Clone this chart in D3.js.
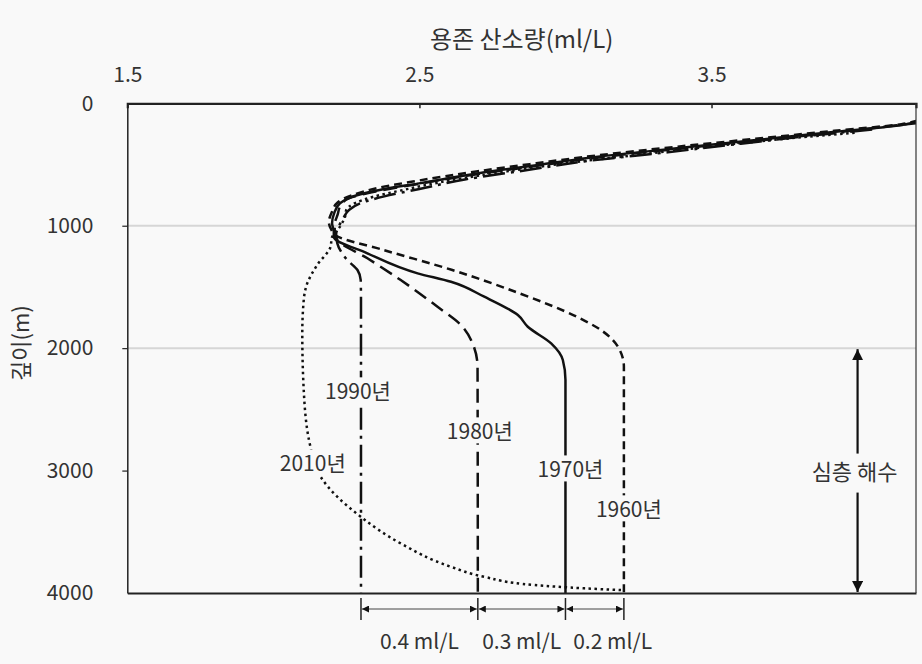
<!DOCTYPE html>
<html>
<head>
<meta charset="utf-8">
<script src="https://cdn.jsdelivr.net/npm/d3@7"></script>
<style>
  html, body { margin: 0; padding: 0; background: #f9f9f9; }
  svg { display: block; }
  text { font-family: "Noto Sans CJK KR", "Noto Sans", sans-serif; fill: #333; }
</style>
</head>
<body>
<svg id="chart" width="922" height="664"></svg>
<script>
// ---------------- DATA ----------------
const xTickValues = [1.5, 2.5, 3.5];
const yTickValues = [0, 1000, 2000, 3000, 4000];
const gridDepths = [1000, 2000];
const years = ["1960년", "1970년", "1980년", "1990년", "2010년"];

// depth (m) and dissolved oxygen (ml/L) per survey year
const depth1960  = [140, 170, 225, 290, 355, 425, 490, 555, 630, 690, 750, 810, 890, 970, 1040, 1075, 1200, 1360, 1550, 1745, 1850, 1990, 2150, 2500, 4000];
const oxygen1960 = [4.207, 4.15, 3.92, 3.65, 3.38, 3.11, 2.90, 2.70, 2.50, 2.36, 2.27, 2.22, 2.20, 2.19, 2.20, 2.21, 2.38, 2.61, 2.84, 3.04, 3.12, 3.18, 3.20, 3.20, 3.20];

const depth1970  = [145, 177, 232, 300, 368, 436, 504, 572, 654, 708, 763, 817, 899, 980, 1050, 1090, 1225, 1389, 1458, 1580, 1730, 1825, 1961, 2097, 2260, 4000];
const oxygen1970 = [4.207, 4.152, 3.925, 3.653, 3.382, 3.111, 2.906, 2.703, 2.499, 2.364, 2.269, 2.228, 2.208, 2.201, 2.207, 2.207, 2.322, 2.494, 2.608, 2.722, 2.837, 2.871, 2.951, 2.991, 3.00, 3.00];

const depth1980  = [160, 190, 245, 312, 378, 446, 515, 585, 665, 720, 775, 835, 910, 990, 1060, 1117, 1266, 1444, 1662, 1811, 1961, 2152, 4000];
const oxygen1980 = [4.207, 4.10, 3.90, 3.63, 3.36, 3.10, 2.89, 2.68, 2.48, 2.35, 2.26, 2.23, 2.22, 2.21, 2.21, 2.219, 2.322, 2.436, 2.562, 2.642, 2.682, 2.699, 2.70];

const depth1990  = [215, 262, 330, 400, 470, 545, 620, 700, 760, 815, 870, 935, 1000, 1070, 1144, 1280, 1362, 1444, 1607, 4000];
const oxygen1990 = [4.05, 3.85, 3.60, 3.35, 3.08, 2.87, 2.66, 2.50, 2.38, 2.30, 2.26, 2.24, 2.225, 2.215, 2.219, 2.253, 2.288, 2.299, 2.30, 2.30];

const depth2010  = [240, 290, 352, 420, 490, 556, 632, 705, 765, 815, 870, 930, 1000, 1100, 1171, 1321, 1471, 1607, 1879, 2343, 2806, 3051, 3377, 3595, 3786, 3868, 3935, 3962, 3976];
const oxygen2010 = [3.99, 3.75, 3.50, 3.25, 3.00, 2.80, 2.60, 2.45, 2.34, 2.28, 2.25, 2.245, 2.23, 2.20, 2.196, 2.150, 2.116, 2.104, 2.099, 2.104, 2.127, 2.162, 2.299, 2.436, 2.608, 2.722, 2.894, 3.065, 3.19];

// deep-water values compared at the bottom
const deepValues = [2.3, 2.7, 3.0, 3.2];
const diffLabels = ["0.4 ml/L", "0.3 ml/L", "0.2 ml/L"];
const deepWaterDepths = [2000, 4000];

// ---------------- LAYOUT / STYLE ----------------
const series = [
  { name: years[0], depth: depth1960, oxy: oxygen1960, dash: "8,5",        labelX: 3.2,   labelDepth: 3322, dx: 5 },
  { name: years[1], depth: depth1970, oxy: oxygen1970, dash: null,         labelX: 3.0,   labelDepth: 2996, dx: 5 },
  { name: years[2], depth: depth1980, oxy: oxygen1980, dash: "14,7",       labelX: 2.7,   labelDepth: 2685, dx: 2 },
  { name: years[3], depth: depth1990, oxy: oxygen1990, dash: "22,6,3,6",   labelX: 2.3,   labelDepth: 2358, dx: -3 },
  { name: years[4], depth: depth2010, oxy: oxygen2010, dash: "2.5,3.5",    labelX: 2.135, labelDepth: 2947, dx: 0 }
];

const svg = d3.select("#chart");
const mLeft = 127.3, mRight = 916, mTop = 103.3, mBottom = 593;

const x = d3.scaleLinear().domain([1.5, 4.2]).range([mLeft, mRight]);
const y = d3.scaleLinear().domain([0, 4000]).range([mTop, mBottom]);

// gridlines
svg.append("g").selectAll("line").data(gridDepths).join("line")
  .attr("x1", mLeft).attr("x2", mRight)
  .attr("y1", d => y(d)).attr("y2", d => y(d))
  .attr("stroke", "#d6d6d6").attr("stroke-width", 2);

// clip for curves
svg.append("clipPath").attr("id", "plotclip").append("rect")
  .attr("x", mLeft).attr("y", mTop).attr("width", mRight - mLeft).attr("height", mBottom - mTop);

const line = d3.line().x(d => x(d[1])).y(d => y(d[0])).curve(d3.curveMonotoneY);

const gLines = svg.append("g").attr("clip-path", "url(#plotclip)");
series.forEach(s => {
  const pts = s.depth.map((d, i) => [d, s.oxy[i]]);
  gLines.append("path").datum(pts)
    .attr("d", line)
    .attr("fill", "none")
    .attr("stroke", "#111")
    .attr("stroke-width", 2.5)
    .attr("stroke-dasharray", s.dash);
});

// axes
const topAxis = d3.axisTop(x).tickValues(xTickValues).tickFormat(d3.format(".1f"))
  .tickSize(-5).tickPadding(21);
const gTop = svg.append("g").attr("transform", `translate(0,${mTop})`).call(topAxis);
gTop.select(".domain").attr("stroke", "#222").attr("stroke-width", 2.2);
gTop.selectAll(".tick line").attr("stroke", "#222").attr("stroke-width", 1.5)
  .filter(d => d === 1.5).remove();
gTop.selectAll("text").style("font-size", "21px").attr("fill", "#333");

const leftAxis = d3.axisLeft(y).tickValues(yTickValues).tickFormat(d3.format("d"))
  .tickSize(0).tickPadding(34);
const gLeft = svg.append("g").attr("transform", `translate(${mLeft},0)`).call(leftAxis);
gLeft.select(".domain").attr("stroke", "#222").attr("stroke-width", 1.5);
gLeft.selectAll("text").style("font-size", "21px").attr("fill", "#333");
gLeft.selectAll(".tick").filter(d => d > 0 && d < 4000).append("line")
  .attr("x1", 0).attr("x2", -5).attr("stroke", "#222").attr("stroke-width", 1.2);

const bottomAxis = d3.axisBottom(x).tickValues([]).tickSize(0);
const gBottom = svg.append("g").attr("transform", `translate(0,${mBottom})`).call(bottomAxis);
gBottom.select(".domain").attr("stroke", "#222").attr("stroke-width", 1.8);

svg.append("line").attr("x1", mRight).attr("x2", mRight).attr("y1", mTop).attr("y2", mBottom)
  .attr("stroke", "#333").attr("stroke-width", 1.2);

// axis titles
svg.append("text").attr("x", x(2.85)).attr("y", 48)
  .attr("text-anchor", "middle").style("font-size", "24px").text("용존 산소량(ml/L)");
svg.append("text").attr("transform", `translate(29,${y(2000) - 5}) rotate(-90)`)
  .attr("text-anchor", "middle").style("font-size", "22px").text("깊이(m)");

// series labels with background boxes
function boxedLabel(g, px, py, txt, size) {
  const t = g.append("text").attr("x", px).attr("y", py).attr("dy", "0.35em")
    .attr("text-anchor", "middle").style("font-size", size + "px").text(txt);
  const bb = t.node().getBBox();
  g.insert("rect", "text").attr("x", bb.x - 2).attr("y", bb.y + 2)
    .attr("width", bb.width + 4).attr("height", bb.height - 4).attr("fill", "#f9f9f9");
  return t;
}
series.forEach(s => {
  const g = svg.append("g");
  boxedLabel(g, x(s.labelX) + s.dx, y(s.labelDepth), s.name, 21);
});

// deep water arrow
const defs = svg.append("defs");
defs.append("marker").attr("id", "tri").attr("viewBox", "0 0 10 10")
  .attr("refX", 10).attr("refY", 5).attr("markerWidth", 11).attr("markerHeight", 11)
  .attr("markerUnits", "userSpaceOnUse").attr("orient", "auto-start-reverse")
  .append("path").attr("d", "M0,0 L10,5 L0,10 Z").attr("fill", "#111");
defs.append("marker").attr("id", "tri2").attr("viewBox", "0 0 10 10")
  .attr("refX", 10).attr("refY", 5).attr("markerWidth", 7).attr("markerHeight", 7)
  .attr("markerUnits", "userSpaceOnUse").attr("orient", "auto-start-reverse")
  .append("path").attr("d", "M0,0 L10,5 L0,10 Z").attr("fill", "#111");

const arrowX = x(4.0);
const midDepth = (deepWaterDepths[0] + deepWaterDepths[1]) / 2;
svg.append("line").attr("x1", arrowX).attr("x2", arrowX)
  .attr("y1", y(midDepth) - 17).attr("y2", y(deepWaterDepths[0]) + 1)
  .attr("stroke", "#111").attr("stroke-width", 2.2).attr("marker-end", "url(#tri)");
svg.append("line").attr("x1", arrowX).attr("x2", arrowX)
  .attr("y1", y(midDepth) + 22).attr("y2", y(deepWaterDepths[1]) - 1)
  .attr("stroke", "#111").attr("stroke-width", 2.2).attr("marker-end", "url(#tri)");
svg.append("text").attr("x", arrowX - 3).attr("y", y(midDepth) + 2).attr("dy", "0.35em")
  .attr("text-anchor", "middle").style("font-size", "22px").text("심층 해수");

// bottom difference annotation
const annTop = mBottom + 5, annBot = mBottom + 27, annY = mBottom + 16;
svg.append("g").selectAll("line").data(deepValues).join("line")
  .attr("x1", d => x(d)).attr("x2", d => x(d))
  .attr("y1", annTop).attr("y2", annBot)
  .attr("stroke", "#222").attr("stroke-width", 1.5);
deepValues.slice(0, -1).forEach((v, i) => {
  const a = x(v), b = x(deepValues[i + 1]);
  svg.append("line").attr("x1", a + 1).attr("x2", b - 1).attr("y1", annY).attr("y2", annY)
    .attr("stroke", "#444").attr("stroke-width", 1)
    .attr("marker-start", "url(#tri2)").attr("marker-end", "url(#tri2)");
  const cx = (a + b) / 2 + (i === 2 ? 18 : 0);
  svg.append("text").attr("x", cx).attr("y", mBottom + 49).attr("dy", "0.35em")
    .attr("text-anchor", "middle").style("font-size", "21px").text(diffLabels[i]);
});
</script>
</body>
</html>
